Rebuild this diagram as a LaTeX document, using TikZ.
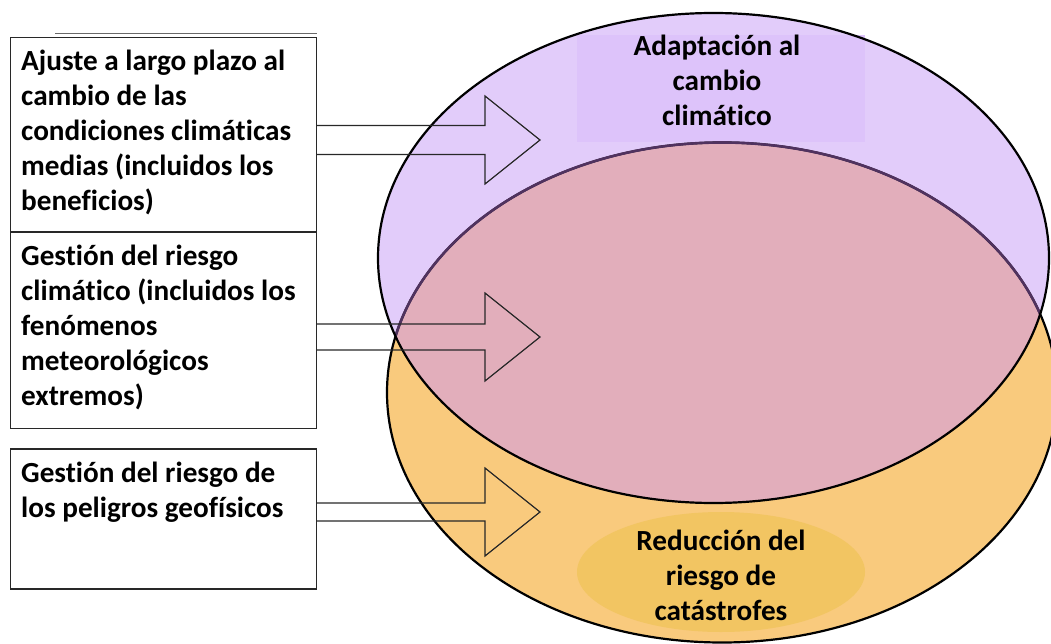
\documentclass[tikz,border=0pt]{standalone}
\usepackage{fontspec}
\setmainfont{Carlito}[Ligatures=NoCommon]
\usetikzlibrary{calc,positioning}
\definecolor{adaptpurple}{RGB}{226,204,250}
\definecolor{adaptlabel}{RGB}{221,195,250}
\definecolor{overlappink}{RGB}{226,174,187}
\definecolor{riskorange}{RGB}{249,202,125}
\definecolor{risklabel}{RGB}{242,197,98}
\definecolor{edgepurple}{RGB}{80,50,95}
\definecolor{boxgray}{RGB}{40,40,40}

\tikzset{
  textbox/.style={draw=boxgray,line width=1.2pt,minimum width=306pt,anchor=north west,inner sep=0pt},
  boxtext/.style={anchor=north west,align=left,inner sep=0pt,font=\bfseries\fontsize{29.2}{35}\selectfont},
  circletext/.style={align=center,inner sep=0pt,font=\bfseries\fontsize{29.2}{35}\selectfont},
  hollow/.style={draw=boxgray,line width=1.2pt,line join=miter},
}
% box, tip, half shaft width
\newcommand{\hollowarrow}[3]{%
  \draw[hollow] ($(#1.east |- #2)+(0,-#3)$) -- ($(#2)+(-55,-#3)$) -- ($(#2)+(-55,-44)$) -- (#2)
    -- ($(#2)+(-55,44)$) -- ($(#2)+(-55,#3)$) -- ($(#1.east |- #2)+(0,#3)$);
}

\begin{document}
\begin{tikzpicture}[x=1pt,y=-1pt]
  \useasboundingbox (0,0) rectangle (1051,644);
  \coordinate (adapt) at (713.5,258);
  \coordinate (risk) at (722,392.5);
  % the two ellipses
  \fill[riskorange] (risk) ellipse [x radius=335,y radius=250];
  \fill[adaptpurple] (adapt) ellipse [x radius=335.5,y radius=245];
  \begin{scope}
    \clip (adapt) ellipse [x radius=335.5,y radius=245];
    \fill[overlappink] (risk) ellipse [x radius=335,y radius=250];
  \end{scope}
  \fill[adaptlabel] (577,35) rectangle (865,142);
  \fill[risklabel] (721,572) ellipse [x radius=144,y radius=60];
  \draw[line width=2.2pt] (risk) ellipse [x radius=335,y radius=250];
  \begin{scope}
    \clip (adapt) ellipse [x radius=335.5,y radius=245];
    \draw[edgepurple,line width=2.6pt] (risk) ellipse [x radius=335,y radius=250];
  \end{scope}
  \draw[line width=2.2pt] (adapt) ellipse [x radius=335.5,y radius=245];
  \node[circletext] (adapttext) at (717,80) {Adaptación al\\cambio\\climático};
  \node[circletext] (risktext) at (721,575) {Reducción del\\riesgo de\\catástrofes};
  % boxes on the left
  \node[textbox,minimum height=194pt] (box1) at (10,37) {};
  \node[textbox,minimum height=196pt,below=0pt of box1] (box2) {};
  \node[textbox,minimum height=140pt,below=19pt of box2] (box3) {};
  \draw[boxgray!70,line width=1pt] ($(box1.north west)+(45,-3)$) -- ($(box1.north east)+(0,-3)$);
  \node[boxtext] (text1) at ($(box1.north west)+(11,13)$) {Ajuste a largo plazo al\\cambio de las\\condiciones climáticas\\medias (incluidos los\\beneficios)};
  \node[boxtext] (text2) at ($(box2.north west)+(11,13)$) {Gestión del riesgo\\climático (incluidos los\\fenómenos\\meteorológicos\\extremos)};
  \node[boxtext] (text3) at ($(box3.north west)+(11,13)$) {Gestión del riesgo de\\los peligros geofísicos};
  % arrows
  \coordinate (tip1) at (540,140);
  \coordinate (tip2) at (540,337);
  \coordinate (tip3) at (540,512);
  \hollowarrow{box1}{tip1}{14.5}
  \hollowarrow{box2}{tip2}{13}
  \hollowarrow{box3}{tip3}{9}
\end{tikzpicture}
\end{document}
